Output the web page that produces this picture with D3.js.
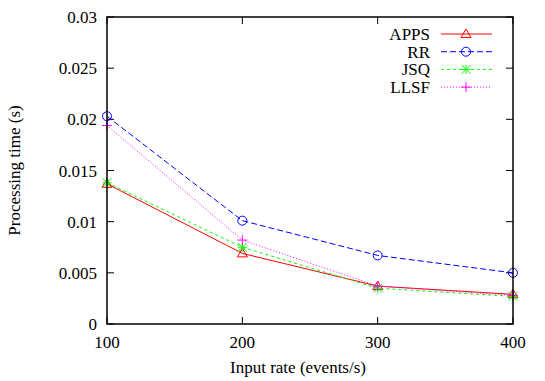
<!DOCTYPE html>
<html>
<head>
<meta charset="utf-8">
<script src="https://cdn.jsdelivr.net/npm/d3@7"></script>
<style>
	body { margin: 0; background: #fff; }
</style>
</head>
<body>
<svg id="viz"></svg>
<script>

	// the data
	var rates = [100, 200, 300, 400];
	var apps = [0.0137, 0.0069, 0.0037, 0.0029];
	var rr = [0.0203, 0.0101, 0.0067, 0.0050];
	var jsq = [0.0138, 0.0075, 0.0035, 0.0027];
	var llsf = [0.0194, 0.0082, 0.0037, 0.0028];
	var yTicks = [0, 0.005, 0.01, 0.015, 0.02, 0.025, 0.03];
	var yTickLabels = ["0", "0.005", "0.01", "0.015", "0.02", "0.025", "0.03"];

	var series = [
		{"name": "APPS", "values": apps, "color": "#ff0000", "dash": null, "marker": "triangle"},
		{"name": "RR", "values": rr, "color": "#0000ff", "dash": "6,3", "marker": "circle"},
		{"name": "JSQ", "values": jsq, "color": "#00ff00", "dash": "3,3", "marker": "star"},
		{"name": "LLSF", "values": llsf, "color": "#ff00ff", "dash": "1,2", "marker": "plus"}
	];

	// set up the svg
	var w = 545;
	var h = 381;
	var fs = 17;
	var font = "'Liberation Serif', 'Times New Roman', 'DejaVu Serif', serif";
	var viz = d3.select("#viz").attr("width", w).attr("height", h)
		.attr("font-family", font);

	var pLeft = 107, pRight = 513, pTop = 17, pBottom = 324;
	var x = d3.scaleLinear().domain([100, 400]).range([pLeft, pRight]);
	var y = d3.scaleLinear().domain([0, 0.03]).range([pBottom, pTop]);

	// ticks, inward and mirrored
	var tickLen = 7;
	var g = viz.append("g");
	yTicks.forEach(function(t, i) {
		g.append("line").attr("x1", pLeft).attr("x2", pLeft + tickLen)
			.attr("y1", y(t)).attr("y2", y(t)).attr("stroke", "#000");
		g.append("line").attr("x1", pRight).attr("x2", pRight - tickLen)
			.attr("y1", y(t)).attr("y2", y(t)).attr("stroke", "#000");
		g.append("text").attr("x", pLeft - 10).attr("y", y(t) + 6)
			.attr("text-anchor", "end").attr("font-size", fs).text(yTickLabels[i]);
	});
	rates.forEach(function(r) {
		g.append("line").attr("x1", x(r)).attr("x2", x(r))
			.attr("y1", pBottom).attr("y2", pBottom - tickLen).attr("stroke", "#000");
		g.append("line").attr("x1", x(r)).attr("x2", x(r))
			.attr("y1", pTop).attr("y2", pTop + tickLen).attr("stroke", "#000");
		g.append("text").attr("x", x(r)).attr("y", pBottom + 24)
			.attr("text-anchor", "middle").attr("font-size", fs).text(r);
	});

	// axis titles
	viz.append("text").attr("x", 298).attr("y", 373)
		.attr("text-anchor", "middle").attr("font-size", fs).text("Input rate (events/s)");
	viz.append("text").attr("transform", "translate(20," + ((pTop + pBottom) / 2) + ") rotate(-90)")
		.attr("text-anchor", "middle").attr("font-size", fs).text("Processing time (s)");

	// markers
	function drawMarker(sel, type, cx, cy, color) {
		if (type === "triangle") {
			sel.append("path").attr("d", "M" + cx + "," + (cy - 5) + "L" + (cx + 5) + "," + (cy + 3.5) + "L" + (cx - 5) + "," + (cy + 3.5) + "Z")
				.attr("fill", "none").attr("stroke", color);
		} else if (type === "circle") {
			sel.append("circle").attr("cx", cx).attr("cy", cy).attr("r", 4.5)
				.attr("fill", "none").attr("stroke", color);
		} else if (type === "star") {
			var s = 4.5;
			sel.append("path").attr("d", "M" + (cx - s) + "," + cy + "H" + (cx + s) + "M" + cx + "," + (cy - s) + "V" + (cy + s)
				+ "M" + (cx - s) + "," + (cy - s) + "L" + (cx + s) + "," + (cy + s) + "M" + (cx - s) + "," + (cy + s) + "L" + (cx + s) + "," + (cy - s))
				.attr("stroke", color);
		} else {
			var p = 5;
			sel.append("path").attr("d", "M" + (cx - p) + "," + cy + "H" + (cx + p) + "M" + cx + "," + (cy - p) + "V" + (cy + p))
				.attr("stroke", color);
		}
	}

	// draw the lines
	var line = d3.line()
		.x(function(d, i) { return x(rates[i]); })
		.y(function(d) { return y(d); });

	var plot = viz.append("g");
	series.forEach(function(s) {
		plot.append("path").attr("d", line(s.values))
			.attr("fill", "none").attr("stroke", s.color).attr("stroke-width", 1)
			.attr("stroke-dasharray", s.dash);
		s.values.forEach(function(v, i) {
			drawMarker(plot, s.marker, x(rates[i]), y(v), s.color);
		});
	});

	// legend
	var leg = viz.append("g");
	series.forEach(function(s, i) {
		var ly = 34 + i * 17.7;
		leg.append("text").attr("x", 430).attr("y", ly + 6)
			.attr("text-anchor", "end").attr("font-size", fs).text(s.name);
		leg.append("line").attr("x1", 441).attr("x2", 492).attr("y1", ly).attr("y2", ly)
			.attr("stroke", s.color).attr("stroke-dasharray", s.dash);
		drawMarker(leg, s.marker, 466, ly, s.color);
	});

	// the frame
	viz.append("rect").attr("x", pLeft).attr("y", pTop)
		.attr("width", pRight - pLeft).attr("height", pBottom - pTop)
		.attr("fill", "none").attr("stroke", "#000").attr("stroke-width", 1.5);

</script>
</body>
</html>
